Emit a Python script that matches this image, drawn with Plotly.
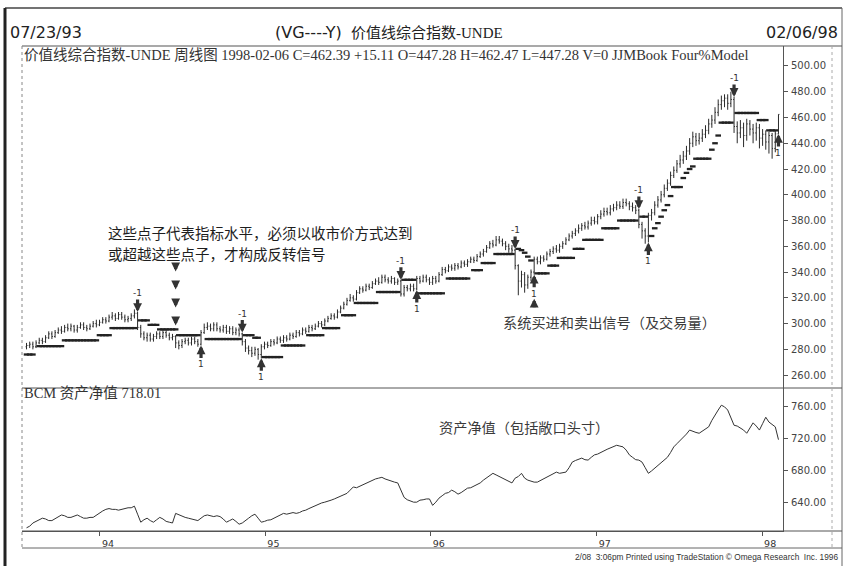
import plotly.graph_objects as go
import pandas as pd

# ---------------- data ----------------
start_date = "1993-07-23"          # first weekly bar
first_open = 282.0

close = [
    283, 284, 282, 285, 287, 286, 289, 292, 290, 293, 295, 294, 297,
    296, 298, 295, 297, 299, 297, 296, 298, 300, 299, 301,
    303, 302, 305, 306, 304, 307, 305, 303, 304, 306, 308,
    297,
    292, 289, 291, 288, 290, 292, 290, 293, 291, 289, 290, 285, 283, 286, 287, 285, 288, 286, 284,
    293,
    297, 298, 296, 299, 296, 295, 297, 294, 296, 293, 295, 292,
    286,
    281, 279, 277, 280, 276,
    282,
    284, 283, 286, 285, 288, 287, 289, 288, 291, 290, 293, 292, 295, 294, 297, 296, 298, 300, 299, 302,
    304, 306, 305, 309, 312, 315, 318, 320, 319, 324, 327, 326, 329, 328, 331, 333, 332, 336, 334, 333,
    335, 332, 333,
    323,
    328, 327, 329, 327,
    335,
    333, 336, 334, 332, 335, 333, 338, 342, 341, 344, 343, 345, 344, 347, 346, 348, 350, 349, 352, 354,
    356, 359, 362, 361, 365, 364, 362, 360, 358, 357,
    345,
    333, 338, 330, 336, 340,
    350,
    348, 351, 350, 354, 356, 358, 357, 360, 362, 365, 368, 370, 372, 374, 376, 375, 378, 380, 379, 383,
    385, 387, 386, 389, 390, 392, 391, 394, 393, 391, 390, 388,
    377,
    372, 368,
    384,
    386, 392, 396, 400, 405, 409, 415, 419, 424, 427, 430, 434, 440, 445, 442, 444, 447, 450, 455, 458,
    464, 470, 473, 475, 471, 474,
    453,
    448, 452, 446, 455, 451, 448, 452, 444, 447, 441, 446, 436, 447.28,
    462.39,
]

high = [
    285, 286, 286, 287, 289, 289, 291, 294, 294, 295, 297, 298, 299,
    300, 300, 299, 299, 301, 301, 299, 300, 302, 303, 303,
    305, 305, 307, 309, 308, 309, 309, 307, 306, 308, 311,
    309,
    299, 294, 293, 293, 292, 294, 294, 295, 295, 293, 292, 291, 287, 288, 289, 289, 290, 290, 288,
    295,
    300, 301, 300, 301, 301, 298, 299, 299, 298, 298, 297, 297,
    293,
    288, 283, 282, 282, 281,
    284,
    286, 286, 288, 288, 290, 290, 291, 291, 293, 293, 295, 295, 297, 297, 299, 299, 300, 302, 302, 304,
    306, 308, 308, 311, 314, 317, 320, 323, 322, 326, 329, 329, 331, 331, 333, 335, 336, 338, 338, 336,
    337, 336, 335,
    334,
    330, 330, 331, 331,
    337,
    337, 338, 338, 336, 337, 337, 340, 344, 344, 346, 346, 347, 347, 349, 349, 350, 352, 352, 354, 356,
    358, 361, 364, 365, 368, 368, 366, 364, 362, 361,
    358,
    346, 341, 340, 338, 342,
    352,
    352, 353, 353, 356, 358, 360, 361, 362, 364, 367, 370, 372, 374, 377, 378, 379, 380, 383, 383, 385,
    388, 390, 390, 392, 393, 395, 395, 397, 397, 395, 394, 392,
    389,
    379, 374,
    386,
    389, 395, 399, 403, 408, 412, 418, 422, 427, 431, 434, 438, 444, 449, 448, 448, 451, 454, 459, 462,
    468, 474, 477, 478, 478, 480,
    476,
    457, 458, 456, 459, 458, 455, 456, 455, 451, 450, 449, 448, 450,
    462.47,
]

low = [
    280, 281, 280, 281, 284, 284, 285, 288, 288, 289, 292, 292, 293,
    294, 294, 293, 293, 296, 295, 294, 295, 297, 297, 298,
    300, 300, 301, 303, 302, 303, 303, 301, 301, 302, 304,
    295,
    289, 287, 286, 286, 286, 288, 288, 288, 289, 287, 287, 281, 280, 281, 284, 283, 283, 284, 282,
    283,
    292, 295, 294, 294, 294, 293, 293, 292, 292, 291, 291, 290,
    283,
    278, 276, 274, 275, 272,
    273,
    280, 281, 282, 283, 284, 285, 285, 286, 287, 288, 289, 290, 291, 292, 293, 294, 295, 297, 297, 298,
    301, 303, 303, 304, 308, 311, 314, 317, 317, 318, 323, 324, 325, 326, 327, 330, 330, 331, 332, 331,
    331, 330, 330,
    321,
    321, 325, 325, 325,
    326,
    331, 332, 332, 330, 330, 331, 332, 337, 339, 340, 341, 341, 342, 343, 344, 344, 347, 347, 348, 351,
    352, 355, 358, 359, 360, 362, 360, 357, 355, 354,
    342,
    322, 328, 324, 327, 333,
    338,
    346, 346, 348, 349, 352, 354, 355, 355, 358, 361, 364, 366, 368, 370, 372, 373, 373, 376, 377, 377,
    381, 383, 384, 384, 387, 388, 389, 389, 391, 388, 387, 385,
    374,
    366, 362,
    363,
    380, 384, 390, 394, 398, 403, 407, 413, 417, 421, 424, 427, 431, 437, 438, 439, 441, 444, 447, 452,
    455, 461, 466, 468, 466, 468,
    448,
    440, 444, 437, 442, 446, 440, 442, 436, 438, 435, 432, 428, 433,
    447.28,
]

# reversal (stop) levels drawn as dashes, None = no dot that week
stop = [
    276, 276, 276, None,
    282.5, 282.5, 282.5, 282.5, 282.5, 282.5, 282.5, 282.5,
    287, 287, 287, 287, 287, 287, 287, 287, 287, 287, 287,
    291, 291, 291, 291,
    296.5, 296.5, 296.5, 296.5, 296.5, 296.5, 296.5, 296.5,
    None,
    302.5, 302.5, 302.5,
    299, 299, 299,
    295.5, 295.5, 295.5, 295.5, 295.5, 295.5,
    291, 291, 291, 291, 291, 291, 291,
    None, None,
    288, 288, 288, 288, 288, 288, 288, 288, 288, 288, 288,
    None,
    291, 291, 291, 289, 289,
    None,
    274, 274, 274, 274, 274, 274,
    283, 283, 283, 283, 283, 283, 283,
    None,
    291, 291, 291, 291, 291,
    296.5, 296.5, 296.5, 296.5, 296.5,
    None,
    306.5, 306.5, 306.5, 306.5,
    316, 316, 316, 316, 316, 316, 316,
    324.5, 324.5, 324.5, 324.5, 324.5, 324.5, 324.5,
    None,
    334, 334, 334, 334,
    None,
    323.5, 323.5, 323.5, 323.5, 323.5, 323.5, 323.5, 323.5,
    None,
    335, 335, 335, 335, 335, 335, 335,
    None,
    341.5, 341.5, 341.5,
    347, 347, 347, 347,
    354, 354, 354, 354, 354, 354,
    None,
    358, 357, 355, 352, 349,
    None,
    339, 339, 339, 339,
    345, 345, 345,
    351, 351, 351, 351, 351,
    358, 358, 358,
    365, 365, 365, 365, 365, 365,
    374, 374, 374, 374, 374,
    380, 380, 380, 380, 380, 380,
    None,
    383, 383,
    None,
    368, 374, 378, 383, 388, 392, 399, 406, 406, 406, 413, 417, 420, 422,
    428, 428, 428, 428, 428,
    435, 440, 446,
    456, 456, 456, 456,
    None,
    463.5, 463.5, 463.5, 463.5, 463.5, 463.5, 463.5,
    458, 458, 458,
    450, 450, 450,
    None,
]

# system signals: week index of each sell (-1) and buy (1)
sell_weeks = [35, 68, 118, 154, 193, 223]
buy_weeks = [55, 74, 123, 160, 196, 237]

# BCM equity (net asset value), weekly
equity = [
    608, 610, 614, 616, 618, 620, 619, 617, 617, 619, 622,
    624, 623, 621, 621, 623, 624, 622, 620, 620, 621, 621, 624,
    627, 629, 631, 632, 631, 631, 630, 631, 632, 633, 633, 635, 625,
    615, 618, 620, 617, 615, 618, 621, 619, 616, 615, 614, 626, 624, 622, 621, 620, 619, 618, 617,
    620, 623, 624, 623, 622, 623, 622, 619, 615, 617, 619, 616, 612.5,
    614, 617.5, 620, 623, 625, 620, 615,
    616, 617.5, 618, 620, 622, 624, 626, 625, 626, 627, 626, 627, 629, 630, 632, 634,
    636, 638, 639, 640, 641, 642.5, 644, 646, 648, 650,
    651, 655, 659, 658, 660, 662, 664, 666, 667, 669, 670, 671, 669, 667.5, 666, 665, 664,
    655, 646, 643, 641, 640,
    640, 642.5, 643, 644, 644, 636, 640, 645, 648,
    651, 652, 655, 653, 650, 652, 655, 657.5, 658, 660, 661, 664, 667.5, 670, 673,
    676, 674, 672, 671, 668, 666, 664, 670,
    672, 676, 670, 667.5, 666, 665,
    665, 667, 669, 671, 673, 675, 677.5, 676, 677, 677.5, 683,
    690, 692, 694, 695, 693, 692.5, 696, 699, 700,
    702.5, 704, 706, 707.5, 709, 711, 710, 709, 705,
    699, 696, 693, 692.5, 690, 683, 676,
    679, 682.5, 686, 690, 693, 696, 702, 709, 713, 717,
    720, 725, 730, 728, 727, 726, 729, 731, 734, 742, 749, 755,
    761, 759, 755, 746, 736, 735, 732.5, 730, 726, 733, 739, 735, 730, 738, 746, 740, 737, 734, 718.01,
]

price_ticks = [260, 280, 300, 320, 340, 360, 380, 400, 420, 440, 460, 480, 500]
equity_ticks = [640, 680, 720, 760]
year_ticks = ["1994-01-01", "1995-01-01", "1996-01-01", "1997-01-01", "1998-01-01"]
year_labels = ["94", "95", "96", "97", "98"]

assert len(close) == len(high) == len(low) == len(stop) == len(equity) == 238, (
    len(close), len(high), len(low), len(stop), len(equity))

dates = pd.date_range(start_date, periods=len(close), freq="7D")
opens = [first_open] + close[:-1]

# ---------------- figure ----------------
W, H = 847, 566


def px(x):
    return x / W


def py(y):
    return 1 - y / H


INK = "#2a2a2a"
GRID = "#5a5a5a"
SANS = "DejaVu Sans"
SERIF = "Liberation Serif, Noto Sans CJK SC"
CJK = "Noto Sans CJK SC"

fig = go.Figure()
fig.add_trace(go.Ohlc(
    x=dates, open=opens, high=high, low=low, close=close,
    increasing=dict(line=dict(color=INK, width=1)),
    decreasing=dict(line=dict(color=INK, width=1)),
    tickwidth=0.3, xaxis="x", yaxis="y", showlegend=False, hoverinfo="skip"))
fig.add_trace(go.Scatter(
    x=dates, y=stop, mode="markers", xaxis="x", yaxis="y", showlegend=False,
    marker=dict(symbol="line-ew", size=4, color=INK, line=dict(width=2.3, color="#222")),
    hoverinfo="skip"))
fig.add_trace(go.Scatter(
    x=dates, y=equity, mode="lines", xaxis="x2", yaxis="y2", showlegend=False,
    line=dict(color="#333333", width=1), hoverinfo="skip"))

annotations = []
ARROW = dict(showarrow=True, arrowhead=2, arrowsize=0.55, arrowwidth=3.2, arrowcolor="#333")
# signal arrows
for i in sell_weeks:
    annotations.append(dict(
        x=dates[i], y=high[i], xref="x", yref="y", text="-1", ax=0, ay=-19,
        font=dict(family=SANS, size=9, color="#333"), **ARROW))
for i in buy_weeks:
    annotations.append(dict(
        x=dates[i], y=low[i], xref="x", yref="y", text="1", ax=0, ay=19,
        font=dict(family=SANS, size=9, color="#333"), **ARROW))

# pointer arrows to the stop dots
for k in (4, 22, 40, 58):
    annotations.append(dict(
        x=dates[47], y=stop[47], xref="x", yref="y", yshift=k, text="", ax=0, ay=-9, **ARROW))
annotations.append(dict(
    x=dates[160], y=low[160], xref="x", yref="y", yshift=-24, text="", ax=0, ay=10, **ARROW))


def txt(x, y, s, size, family, anchor="left", color="#222"):
    annotations.append(dict(
        x=px(x), y=py(y), xref="paper", yref="paper", text=s, showarrow=False,
        xanchor=anchor, yanchor="middle", font=dict(family=family, size=size, color=color)))


txt(8, 33, "07/23/93", 16, SANS)
txt(840, 33, "02/06/98", 16, SANS, anchor="right")
txt(344, 33, "(VG----Y)", 16, SANS, anchor="right")
txt(349, 33, "价值线综合指数-UNDE", 15, SERIF)
txt(22, 55, "价值线综合指数-UNDE 周线图 1998-02-06 C=462.39 +15.11 O=447.28 H=462.47 "
    "L=447.28 V=0 JJMBook Four%Model", 14.5, SERIF, color="#333")
txt(22, 393, "BCM 资产净值 718.01", 14.5, SERIF, color="#333")
txt(106, 232, "这些点子代表指标水平，必须以收市价方式达到", 14.5, CJK, color="#1e1e1e")
txt(106, 253, "或超越这些点子，才构成反转信号", 14.5, CJK, color="#1e1e1e")
txt(501, 322, "系统买进和卖出信号（及交易量）", 14.2, CJK, color="#3a3a3a")
txt(437, 427, "资产净值（包括敞口头寸）", 14.2, CJK, color="#3a3a3a")
txt(840, 557, "2/08  3:06pm Printed using TradeStation © Omega Research  Inc. 1996",
    8.3, "Liberation Sans", anchor="right", color="#333")


def hline(y, x0, x1, color=GRID, width=1, dash="solid"):
    return dict(type="line", xref="paper", yref="paper", x0=px(x0), x1=px(x1),
                y0=py(y), y1=py(y), line=dict(color=color, width=width, dash=dash))


def vline(x, y0, y1, color=GRID, width=1, dash="solid"):
    return dict(type="line", xref="paper", yref="paper", x0=px(x), x1=px(x),
                y0=py(y0), y1=py(y1), line=dict(color=color, width=width, dash=dash))


shapes = [
    hline(8, 5, 842, "#444", 1.5),
    vline(5, 8, 566, "#222", 3),
    vline(842, 8, 566, "#666", 1),
    hline(46, 22, 842, "#555", 1.2),
    vline(22, 46, 548, "#888", 1, "dot"),
    hline(388, 22, 842, "#555", 1),
    hline(531, 22, 842, "#555", 1),
    hline(548, 22, 842, "#666", 1),
    vline(832, 46, 548, "#aaa", 1, "dot"),
]

axis_common = dict(showgrid=False, zeroline=False)
fig.update_layout(
    width=W, height=H, margin=dict(l=0, r=0, t=0, b=0),
    paper_bgcolor="white", plot_bgcolor="white", showlegend=False,
    xaxis=dict(domain=[px(22), px(783)], anchor="y", range=["1993-07-13", "1998-02-16"],
               showticklabels=False, ticks="", showline=False,
               rangeslider=dict(visible=False), **axis_common),
    xaxis2=dict(domain=[px(22), px(783)], anchor="y2", matches="x",
                range=["1993-07-13", "1998-02-16"],
                tickmode="array", tickvals=year_ticks, ticktext=year_labels,
                ticks="outside", ticklen=4, tickcolor="#555", showline=True,
                linecolor="#555", linewidth=1, ticklabelshift=8, ticklabelstandoff=0,
                tickfont=dict(family=SANS, size=9.5, color="#333"), **axis_common),
    yaxis=dict(domain=[py(388), py(46)], anchor="x", side="right", range=[250, 515.5],
               tickmode="array", tickvals=price_ticks, tickformat=".2f",
               ticks="outside", ticklen=4, tickcolor="#555", showline=True,
               linecolor="#555", linewidth=1, ticklabelstandoff=1,
               tickfont=dict(family=SANS, size=10, color="#444"), **axis_common),
    yaxis2=dict(domain=[py(531), py(388)], anchor="x2", side="right", range=[604, 782.5],
                tickmode="array", tickvals=equity_ticks, tickformat=".2f",
                ticks="outside", ticklen=4, tickcolor="#555", showline=True,
                linecolor="#555", linewidth=1, ticklabelstandoff=1,
                tickfont=dict(family=SANS, size=10, color="#444"), **axis_common),
    annotations=annotations, shapes=shapes,
)

fig.write_html("out.html", post_script="document.body.style.margin='0px';",
               config={"displayModeBar": False})
